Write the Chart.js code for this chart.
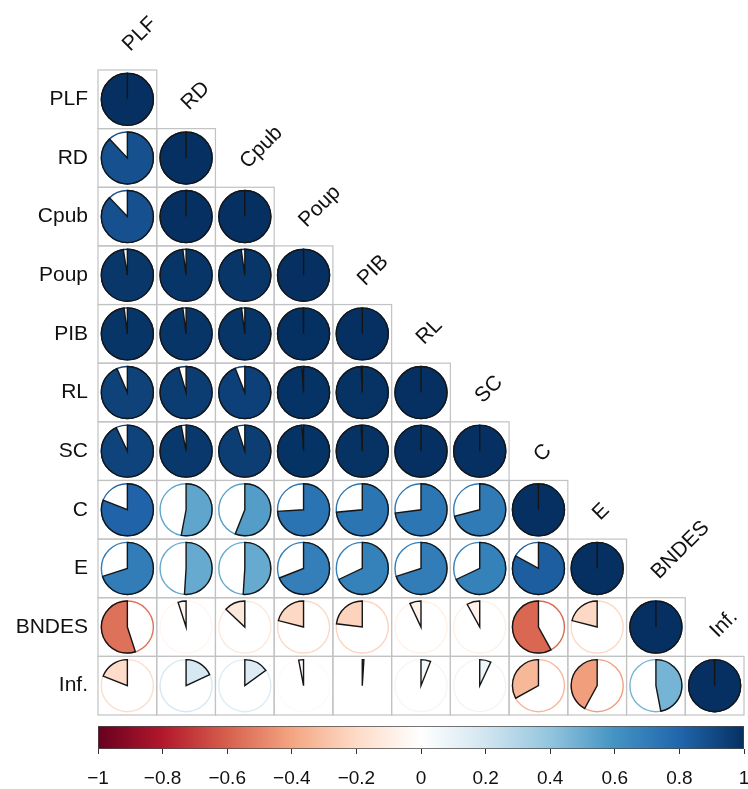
<!DOCTYPE html>
<html>
<head>
<meta charset="utf-8">
<script src="https://cdn.jsdelivr.net/npm/chart.js@4"></script>
<style>
  html, body { margin: 0; padding: 0; background: #ffffff; }
  #wrap { position: relative; width: 748px; height: 789px; }
  #matrix { position: absolute; left: 0; top: 0; }
  #legend { position: absolute; left: 0; top: 700px; }
</style>
</head>
<body>
<div id="wrap">
  <canvas id="matrix" width="748" height="789"></canvas>
  <canvas id="legend" width="748" height="89"></canvas>
</div>
<script>
// Variable names (rows and columns of the correlation matrix)
const varNames = ['PLF', 'RD', 'Cpub', 'Poup', 'PIB', 'RL', 'SC', 'C', 'E', 'BNDES', 'Inf.'];

// Lower-triangle correlations, one array per row
const rowPLF   = [1];
const rowRD    = [0.88, 1];
const rowCpub  = [0.88, 0.999, 1];
const rowPoup  = [0.975, 0.98, 0.978, 1];
const rowPIB   = [0.98, 0.98, 0.98, 0.998, 1];
const rowRL    = [0.935, 0.955, 0.94, 0.99, 0.993, 1];
const rowSC    = [0.93, 0.97, 0.95, 0.99, 0.993, 0.999, 1];
const rowC     = [0.81, 0.53, 0.56, 0.74, 0.735, 0.73, 0.71, 1];
const rowE     = [0.70, 0.51, 0.51, 0.69, 0.68, 0.70, 0.68, 0.83, 1];
const rowBNDES = [-0.55, -0.05, -0.13, -0.21, -0.23, -0.07, -0.08, -0.58, -0.21, 1];
const rowInf   = [-0.19, 0.18, 0.15, -0.03, 0.01, 0.06, 0.07, -0.33, -0.42, 0.47, 1];

// Colour legend tick labels
const legendTicks = [-1, -0.8, -0.6, -0.4, -0.2, 0, 0.2, 0.4, 0.6, 0.8, 1];

// Diverging red-blue palette from -1 to 1
const rdbu = ['#67001F', '#B2182B', '#D6604D', '#F4A582', '#FDDBC7', '#FFFFFF',
              '#D1E5F0', '#92C5DE', '#4393C3', '#2166AC', '#053061'];

const corrRows = [rowPLF, rowRD, rowCpub, rowPoup, rowPIB, rowRL, rowSC, rowC, rowE, rowBNDES, rowInf];

function hexToRgb(h) {
  return [parseInt(h.slice(1, 3), 16), parseInt(h.slice(3, 5), 16), parseInt(h.slice(5, 7), 16)];
}
function corrColor(r) {
  const t = Math.max(0, Math.min(1, (r + 1) / 2)) * (rdbu.length - 1);
  const i = Math.min(rdbu.length - 2, Math.floor(t));
  const f = t - i;
  const a = hexToRgb(rdbu[i]), b = hexToRgb(rdbu[i + 1]);
  const c = a.map((v, k) => Math.round(v + (b[k] - v) * f));
  return `rgb(${c[0]},${c[1]},${c[2]})`;
}

// One point per lower-triangle cell
const cells = [];
corrRows.forEach((row, i) => row.forEach((r, j) => cells.push({ x: j, y: i, r: r })));

const FONT = "'Liberation Sans', Arial, sans-serif";

// Cell frames behind the pies
const cellFrames = {
  id: 'cellFrames',
  beforeDatasetsDraw(chart) {
    const xs = chart.scales.x, ys = chart.scales.y, ctx = chart.ctx;
    const w = xs.getPixelForValue(1) - xs.getPixelForValue(0);
    const h = ys.getPixelForValue(1) - ys.getPixelForValue(0);
    ctx.save();
    ctx.strokeStyle = '#c2c2c2';
    ctx.lineWidth = 1.2;
    chart.data.datasets[0].data.forEach(d => {
      const cx = xs.getPixelForValue(d.x), cy = ys.getPixelForValue(d.y);
      ctx.strokeRect(cx - w / 2, cy - h / 2, w, h);
    });
    ctx.restore();
  }
};

// Pie glyphs: wedge angle proportional to the correlation, clockwise when positive
const corrPies = {
  id: 'corrPies',
  afterDatasetsDraw(chart) {
    const xs = chart.scales.x, ys = chart.scales.y, ctx = chart.ctx;
    const w = xs.getPixelForValue(1) - xs.getPixelForValue(0);
    const rad = w * 0.443;
    ctx.save();
    chart.data.datasets[0].data.forEach(d => {
      const cx = xs.getPixelForValue(d.x), cy = ys.getPixelForValue(d.y);
      const col = corrColor(d.r);
      ctx.beginPath();
      ctx.arc(cx, cy, rad, 0, Math.PI * 2);
      ctx.lineWidth = 1.4;
      ctx.strokeStyle = col;
      ctx.stroke();
      const start = -Math.PI / 2;
      const end = start + d.r * Math.PI * 2;
      ctx.beginPath();
      ctx.moveTo(cx, cy);
      ctx.lineTo(cx, cy - rad);
      ctx.arc(cx, cy, rad, start, end, d.r < 0);
      ctx.closePath();
      ctx.fillStyle = col;
      ctx.fill();
      ctx.lineWidth = 1.4;
      ctx.strokeStyle = '#151515';
      ctx.stroke();
    });
    ctx.restore();
  }
};

// Column names, rotated above the diagonal cells
const topLabels = {
  id: 'topLabels',
  afterDraw(chart) {
    const xs = chart.scales.x, ys = chart.scales.y, ctx = chart.ctx;
    const h = ys.getPixelForValue(1) - ys.getPixelForValue(0);
    ctx.save();
    ctx.font = `21px ${FONT}`;
    ctx.fillStyle = '#111111';
    ctx.textAlign = 'left';
    ctx.textBaseline = 'alphabetic';
    varNames.forEach((name, j) => {
      const cx = xs.getPixelForValue(j);
      const top = ys.getPixelForValue(j) - h / 2;
      ctx.save();
      ctx.translate(cx + 3, top - 18);
      ctx.rotate(-Math.PI / 4);
      ctx.fillText(name, 0, 0);
      ctx.restore();
    });
    ctx.restore();
  }
};

new Chart(document.getElementById('matrix'), {
  type: 'scatter',
  data: {
    datasets: [{ data: cells, pointRadius: 0, pointHoverRadius: 0 }]
  },
  options: {
    responsive: false,
    animation: false,
    events: [],
    layout: { padding: { top: 70, bottom: 74, right: 4, left: 0 } },
    plugins: { legend: { display: false }, tooltip: { enabled: false } },
    scales: {
      x: { type: 'linear', min: -0.5, max: varNames.length - 0.5, display: false },
      y: {
        type: 'linear', min: -0.5, max: varNames.length - 0.5, reverse: true,
        afterBuildTicks: s => { s.ticks = varNames.map((_, i) => ({ value: i })); },
        afterFit: s => { s.width = 98; },
        grid: { display: false, drawTicks: false },
        border: { display: false },
        ticks: {
          autoSkip: false, padding: 10, color: '#111111',
          font: { family: FONT, size: 21 },
          callback: v => varNames[v]
        }
      }
    }
  },
  plugins: [cellFrames, corrPies, topLabels]
});

// Colour legend: one floating bar spanning -1..1 filled with the palette gradient
new Chart(document.getElementById('legend'), {
  type: 'bar',
  data: {
    labels: ['corr'],
    datasets: [{
      data: [[legendTicks[0], legendTicks[legendTicks.length - 1]]],
      barPercentage: 1, categoryPercentage: 1,
      borderWidth: 1, borderColor: '#4a4a4a', borderSkipped: false,
      backgroundColor: c => {
        const ca = c.chart.chartArea;
        if (!ca) return '#ffffff';
        const g = c.chart.ctx.createLinearGradient(ca.left, 0, ca.right, 0);
        rdbu.forEach((col, i) => g.addColorStop(i / (rdbu.length - 1), col));
        return g;
      }
    }]
  },
  options: {
    indexAxis: 'y',
    responsive: false,
    animation: false,
    events: [],
    layout: { padding: { top: 26, left: 98, right: 4, bottom: 0 } },
    plugins: { legend: { display: false }, tooltip: { enabled: false } },
    scales: {
      y: { display: false },
      x: {
        type: 'linear', min: -1, max: 1,
        afterBuildTicks: s => { s.ticks = legendTicks.map(v => ({ value: v })); },
        afterFit: s => { s.height = 40; s.paddingLeft = 0; s.paddingRight = 0; },
        grid: { drawOnChartArea: false, drawTicks: true, tickLength: 5, color: '#333333', tickWidth: 1 },
        border: { display: false },
        ticks: {
          autoSkip: false, maxRotation: 0, padding: 13, color: '#111111',
          font: { family: FONT, size: 19 },
          callback: v => String(v).replace('-', '\u2212')
        }
      }
    }
  }
});
</script>
</body>
</html>
